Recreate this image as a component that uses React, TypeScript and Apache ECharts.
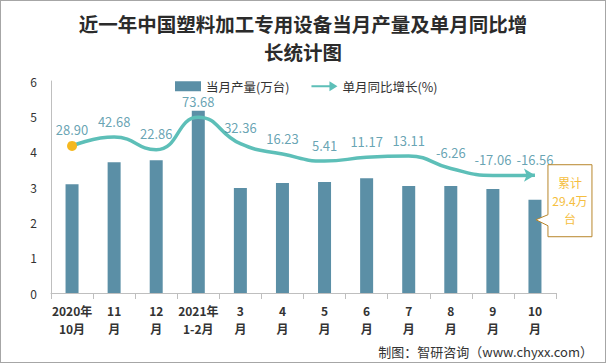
import React, { useEffect, useRef } from "react";
import * as echarts from "echarts";

const categories = ["2020年\n10月", "11\n月", "12\n月", "2021年\n1-2月", "3\n月", "4\n月", "5\n月", "6\n月", "7\n月", "8\n月", "9\n月", "10\n月"];
const output = [3.08, 3.70, 3.76, 5.16, 2.97, 3.11, 3.14, 3.25, 3.03, 3.03, 2.94, 2.64];
const growth = [28.90, 42.68, 22.86, 73.68, 32.36, 16.23, 5.41, 11.17, 13.11, -6.26, -17.06, -16.56];
const yTicks = [0, 1, 2, 3, 4, 5, 6];
const cumulativeLines = ["累计", "29.4万", "台"];

const CJK = '"Noto Sans CJK SC", "Noto Sans", sans-serif';

export default function App() {
  const ref = useRef<HTMLDivElement>(null);
  useEffect(() => {
    document.body.style.margin = "0";
    const chart = echarts.init(ref.current!, null, { renderer: "svg" });
    const lastIdx = growth.length - 1;
    const source = {
      type: "text",
      right: 12,
      bottom: 4,
      style: { text: "制图：智研咨询（www.chyxx.com）", fontFamily: CJK, fontSize: 13, fill: "#333" },
    };
    chart.setOption({
      animation: false,
      backgroundColor: "#fff",
      title: {
        text: "近一年中国塑料加工专用设备当月产量及单月同比增\n长统计图",
        left: "center",
        top: 3,
        textStyle: { fontFamily: CJK, fontSize: 19.5, fontWeight: "bold", color: "#2b2b2b", lineHeight: 28.5 },
      },
      legend: {
        left: 169,
        top: 74,
        itemGap: 22,
        itemWidth: 26,
        itemHeight: 10,
        textStyle: { fontFamily: CJK, fontSize: 12.5, color: "#333" },
        data: [
          { name: "当月产量(万台)", icon: "rect" },
          { name: "单月同比增长(%)", icon: "path://M0,4 L18,4 L18,0 L26,5 L18,10 L18,6 L0,6 Z" },
        ],
      },
      grid: { left: 50, right: 49, top: 80, bottom: 69 },
      xAxis: {
        type: "category",
        data: categories,
        axisLine: { lineStyle: { color: "#bfbfbf" } },
        axisTick: { show: true, length: 6, lineStyle: { color: "#bfbfbf" } },
        axisLabel: { fontFamily: CJK, fontSize: 12, fontWeight: "bold", color: "#333", lineHeight: 18, margin: 8, interval: 0 },
      },
      yAxis: [
        {
          type: "value",
          min: yTicks[0],
          max: yTicks[yTicks.length - 1],
          interval: 1,
          splitLine: { show: false },
          axisLine: { show: true, lineStyle: { color: "#bfbfbf" } },
          axisTick: { show: false },
          axisLabel: { fontFamily: CJK, fontSize: 12, color: "#333", margin: 14 },
        },
        {
          type: "value",
          min: -200,
          max: 130,
          show: false,
          splitLine: { show: false },
        },
      ],
      series: [
        {
          name: "当月产量(万台)",
          type: "bar",
          data: output,
          barWidth: 13,
          itemStyle: { color: "#5B8FA6" },
        },
        {
          name: "单月同比增长(%)",
          type: "line",
          yAxisIndex: 1,
          smooth: 0.5,
          symbol: "none",
          data: growth.map((v, i) => {
            if (i === 0) return { value: v, symbol: "circle", symbolSize: 10, itemStyle: { color: "#F5B820" } };
            if (i === lastIdx) return { value: v, symbol: "arrow", symbolSize: [10, 11], symbolRotate: -90, itemStyle: { color: "#5DBFB8" } };
            return { value: v };
          }),
          lineStyle: { color: "#5DBFB8", width: 3.5 },
          itemStyle: { color: "#5DBFB8" },
          label: { show: false },
        },
        {
          name: "labels",
          type: "scatter",
          yAxisIndex: 1,
          data: growth,
          symbolSize: 1,
          itemStyle: { color: "rgba(0,0,0,0)" },
          silent: true,
          z: 5,
          label: {
            show: true,
            position: "top",
            distance: 9,
            fontFamily: CJK,
            fontSize: 13,
            color: "#3F8CA0",
            formatter: (p: any) => Number(p.value).toFixed(2),
          },
          labelLayout: { hideOverlap: false },
        },
      ],
      graphic: [source],
    });
    const p = chart.convertToPixel({ seriesIndex: 0 }, [lastIdx, output[lastIdx]]) as number[];
    const cx = p[0];
    const ty = p[1];
    const bl = cx + 13, br = cx + 57, bt = ty - 35, bb = ty + 37;
    const midX = (bl + br) / 2;
    chart.setOption({
      graphic: [
        source,
        {
          type: "polygon",
          shape: {
            points: [
              [bl, bt], [br, bt], [br, bb], [bl, bb], [bl, ty + 26], [cx + 1, ty + 20], [bl, ty + 15],
            ],
          },
          style: { fill: "#fff", stroke: "#B8862B", lineWidth: 1 },
          z: 100,
        },
        ...cumulativeLines.map((t, i) => ({
          type: "text",
          x: midX,
          y: ty - 17 + i * 18,
          style: {
            text: t,
            fontFamily: CJK,
            fontSize: 12,
            fill: "#F5BE40",
            align: "center",
            verticalAlign: "middle",
          },
          z: 101,
        })),
      ],
    });
    return () => chart.dispose();
  }, []);
  return (
    <div
      ref={ref}
      style={{ width: 606, height: 363, boxSizing: "border-box", border: "1px solid #a6a6a6" }}
    />
  );
}
